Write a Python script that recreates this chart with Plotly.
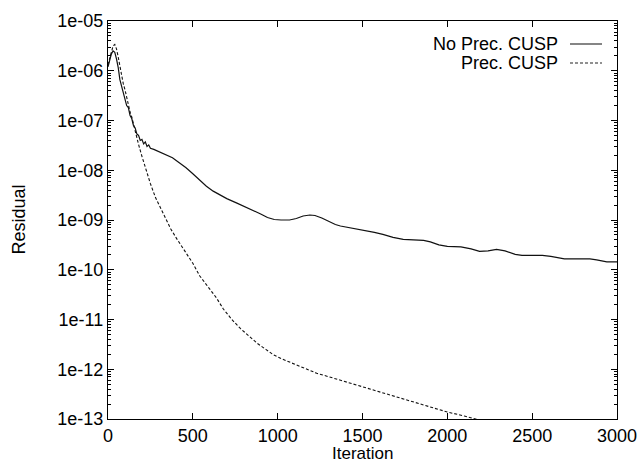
import numpy as np
import plotly.graph_objects as go

# Convergence history: iteration number and log10 of the residual
iter_noprec = [0, 10, 20, 30, 40, 50, 60, 70, 80, 90, 100, 110, 120, 130, 140,
               150, 160, 170, 180, 190, 200, 210, 220, 230, 240, 250, 270, 300,
               340, 380, 420, 460, 500, 540, 580, 620, 660, 700, 760, 820, 860,
               900, 940, 980, 1020, 1070, 1110, 1150, 1190, 1220, 1260, 1300,
               1340, 1370, 1420, 1470, 1520, 1570, 1620, 1680, 1740, 1800, 1860,
               1900, 1950, 2000, 2080, 2140, 2190, 2240, 2290, 2340, 2400, 2440,
               2500, 2560, 2610, 2650, 2690, 2760, 2840, 2880, 2940, 3000]
log_res_noprec = [-5.92, -5.78, -5.66, -5.60, -5.63, -5.76, -5.93, -6.18, -6.30,
                  -6.46, -6.55, -6.70, -6.74, -6.90, -6.96, -7.10, -7.15, -7.27,
                  -7.30, -7.40, -7.38, -7.47, -7.43, -7.52, -7.49, -7.56, -7.58,
                  -7.63, -7.68, -7.75, -7.85, -7.95, -8.07, -8.20, -8.32, -8.42,
                  -8.50, -8.57, -8.66, -8.75, -8.82, -8.88, -8.95, -8.99, -9.00,
                  -9.00, -8.97, -8.92, -8.90, -8.91, -8.96, -9.03, -9.09, -9.12,
                  -9.15, -9.18, -9.22, -9.25, -9.29, -9.35, -9.39, -9.40, -9.41,
                  -9.44, -9.50, -9.53, -9.54, -9.58, -9.63, -9.62, -9.59, -9.62,
                  -9.69, -9.71, -9.71, -9.71, -9.73, -9.76, -9.78, -9.78, -9.78,
                  -9.80, -9.84, -9.84]

iter_prec = [0, 10, 20, 30, 40, 50, 60, 70, 80, 90, 100, 110, 120, 130, 140, 150,
             160, 170, 180, 200, 225, 250, 280, 310, 340, 370, 400, 435, 470, 500,
             540, 580, 610, 640, 680, 730, 780, 830, 880, 930, 975, 1030, 1090,
             1160, 1230, 1330, 1430, 1550, 1650, 1770, 1880, 2000, 2100, 2200]
log_res_prec = [-5.88, -5.74, -5.60, -5.50, -5.47, -5.56, -5.72, -5.92, -6.08,
                -6.26, -6.38, -6.54, -6.66, -6.83, -6.93, -7.08, -7.20, -7.35,
                -7.48, -7.72, -8.00, -8.27, -8.55, -8.76, -8.97, -9.18, -9.35,
                -9.54, -9.72, -9.87, -10.12, -10.31, -10.44, -10.57, -10.79,
                -11.00, -11.18, -11.34, -11.48, -11.60, -11.71, -11.80, -11.88,
                -11.98, -12.08, -12.18, -12.28, -12.40, -12.50, -12.62, -12.74,
                -12.86, -12.94, -13.03]

series_names = ["No Prec. CUSP", "Prec. CUSP"]
x_ticks = [0, 500, 1000, 1500, 2000, 2500, 3000]
y_tick_exps = [-13, -12, -11, -10, -9, -8, -7, -6, -5]
y_tick_labels = ["1e-13", "1e-12", "1e-11", "1e-10", "1e-09", "1e-08",
                 "1e-07", "1e-06", "1e-05"]

FONT = "Liberation Sans, Arial, Helvetica, sans-serif"
W, H = 638, 462
L, R, T, B = 108, 21, 21, 43

fig = go.Figure()
fig.add_trace(go.Scatter(x=iter_noprec, y=10 ** np.array(log_res_noprec),
                         mode="lines", name=series_names[0],
                         line=dict(color="#111111", width=1.2)))
fig.add_trace(go.Scatter(x=iter_prec, y=10 ** np.array(log_res_prec),
                         mode="lines", name=series_names[1],
                         line=dict(color="#111111", width=1.1, dash="3px,2px")))

axis_common = dict(showline=True, linecolor="black", linewidth=1.3, mirror="ticks",
                   ticks="inside", ticklen=6, tickwidth=1.2, tickcolor="black",
                   showgrid=False, zeroline=False, automargin=False,
                   tickfont=dict(family=FONT, size=18, color="black"))

fig.update_xaxes(range=[0, 3000], tickvals=x_ticks,
                 ticktext=[str(v) for v in x_ticks], **axis_common)
fig.update_yaxes(type="log", range=[-13, -5],
                 tickvals=[10.0 ** e for e in y_tick_exps], ticktext=y_tick_labels,
                 minor=dict(ticks="inside", ticklen=3, tickcolor="black",
                            dtick="D1", showgrid=False),
                 **axis_common)

# Axis titles
fig.add_annotation(text="Residual", xref="paper", yref="paper", x=0, y=0.5,
                   xanchor="center", yanchor="middle", xshift=-89.5, textangle=-90,
                   showarrow=False, font=dict(family=FONT, size=18, color="black"))
fig.add_annotation(text="Iteration", xref="paper", yref="paper", x=0.5, y=0,
                   xanchor="center", yanchor="middle", yshift=-34, borderpad=0,
                   showarrow=False, font=dict(family=FONT, size=17, color="black"))

# Key in the upper right: right-aligned labels with line samples after them
pw, ph = W - L - R, H - T - B
def px_x(p):
    return (p - L) / pw
def px_y(p):
    return (H - B - p) / ph

for i, (name, dash) in enumerate(zip(series_names, ["solid", "3px,2px"])):
    yy = 44 + 19 * i
    fig.add_annotation(text=name, xref="paper", yref="paper", x=px_x(560),
                       y=px_y(yy), xanchor="right", yanchor="middle",
                       showarrow=False,
                       font=dict(family=FONT, size=18, color="black"))
    fig.add_shape(type="line", xref="paper", yref="paper",
                  x0=px_x(570), x1=px_x(602), y0=px_y(yy), y1=px_y(yy),
                  line=dict(color="#222222", width=1.1, dash=dash))

fig.update_layout(width=W, height=H, margin=dict(l=L, r=R, t=T, b=B),
                  paper_bgcolor="white", plot_bgcolor="white", showlegend=False)

fig.write_html("out.html")
